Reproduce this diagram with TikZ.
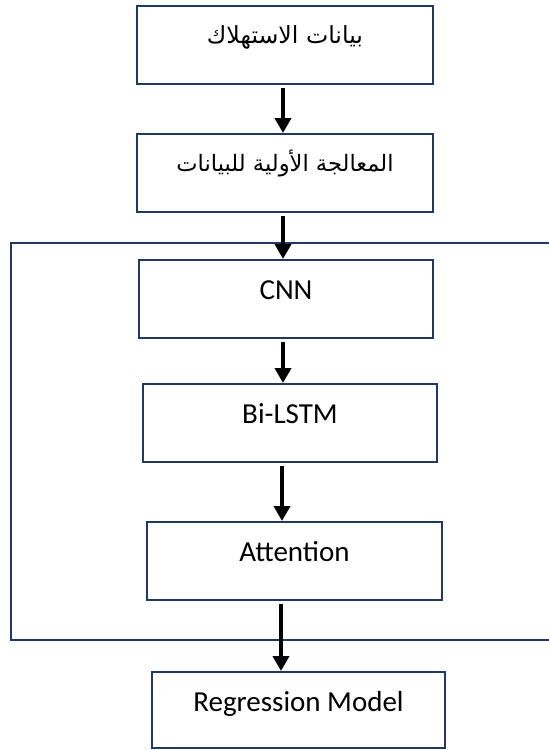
\documentclass[tikz,border=0pt]{standalone}
\usepackage{fontspec}
\usepackage{graphicx}
\setmainfont{Carlito}
\newfontfamily\arabicfont[Script=Arabic]{DejaVu Sans}
\TeXXeTstate=1
\usetikzlibrary{arrows.meta}
\definecolor{navy}{HTML}{1F3864}
\tikzset{
  boxline/.style={draw=navy, line width=1.8bp},
  enbox/.style={boxline, rectangle, anchor=north, minimum width=294bp,
    inner xsep=0pt, inner ysep=10bp, text height=30bp, text depth=28bp,
    font=\fontsize{29.1}{34}\selectfont},
  arbox/.style={boxline, rectangle, anchor=north, minimum width=296bp,
    inner xsep=0pt, inner ysep=10bp, text height=28bp, text depth=30bp},
  arr/.style={black, line width=3.7bp, shorten <=3bp,
    -{Triangle[width=16bp,length=15bp]}}
}
\begin{document}
\begin{tikzpicture}[x=1bp,y=-1bp]
\useasboundingbox (0,0) rectangle (549,750);
% outer frame (open to the right)
\draw[boxline] (565,243) -- (11,243) -- (11,640) -- (565,640);
% boxes
\node[arbox] (b1) at (285,5) {\resizebox{156bp}{!}{\arabicfont\beginR بيانات الاستهلاك\endR}};
\node[arbox] (b2) at (285,133) {\resizebox{217bp}{!}{\arabicfont\beginR المعالجة الأولية للبيانات\endR}};
\node[enbox] (cnn) at (286,259) {CNN};
\node[enbox] (lstm) at (290,383) {Bi-LSTM};
\node[enbox, minimum width=295bp] (att) at (294.5,521) {Attention};
\node[enbox, minimum width=293bp, text depth=26bp] (reg) at (298.5,671) {Regression Model};
% arrow x positions
\coordinate (x1) at (283,0);
\coordinate (x4) at (282,0);
\coordinate (x5) at (281,0);
% connectors
\draw[arr] (b1.south -| x1) -- (b2.north -| x1);
\draw[arr] (b2.south -| x1) -- (cnn.north -| x1);
\draw[arr] (cnn.south -| x1) -- (lstm.north -| x1);
\draw[arr] (lstm.south -| x4) -- (att.north -| x4);
\draw[arr] (att.south -| x5) -- (reg.north -| x5);
\end{tikzpicture}
\end{document}
